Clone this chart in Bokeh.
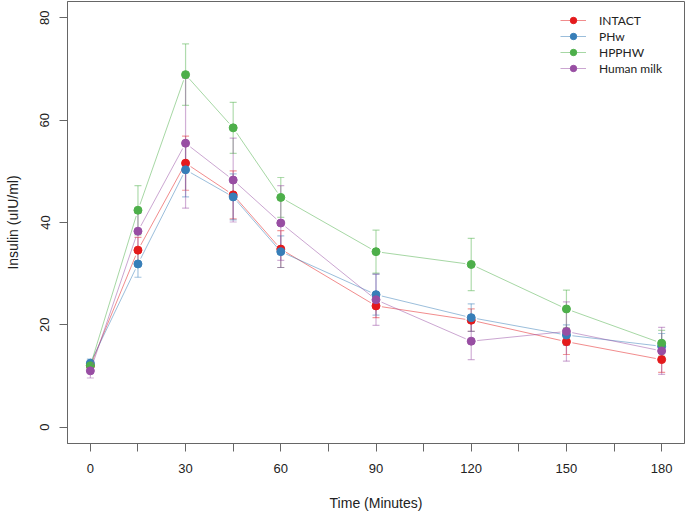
import math
from bokeh.plotting import figure
from bokeh.models import (ColumnDataSource, Range1d, FixedTicker, Whisker, TeeHead,
                          Legend, LegendItem)
from bokeh.embed import file_html
from bokeh.resources import INLINE

times = [0, 15, 30, 45, 60, 90, 120, 150, 180]
series_names = ["INTACT", "PHw", "HPPHW", "Human milk"]
series_colors = ["#E41A1C", "#377EB8", "#4DAF4A", "#984EA3"]

intact = [12.0, 34.6, 51.6, 45.4, 34.8, 23.7, 20.9, 16.7, 13.2]
intact_err = [0.8, 2.5, 5.3, 4.7, 3.6, 2.3, 2.2, 2.5, 2.5]
phw = [12.5, 31.9, 50.3, 45.0, 34.3, 25.9, 21.4, 18.0, 15.8]
phw_err = [0.8, 2.6, 5.3, 4.5, 3.1, 4.0, 2.7, 2.0, 2.5]
hpphw = [12.0, 42.4, 68.9, 58.5, 44.9, 34.3, 31.8, 23.1, 16.4]
hpphw_err = [0.8, 4.8, 6.0, 5.0, 3.9, 4.2, 5.1, 3.7, 2.5]
milk = [11.0, 38.3, 55.5, 48.3, 39.9, 24.9, 16.8, 18.7, 14.9]
milk_err = [1.4, 3.5, 12.7, 8.2, 7.3, 5.0, 3.6, 5.8, 4.6]

x_ticks = [0, 15, 30, 45, 60, 75, 90, 105, 120, 135, 150, 165, 180]
x_labels = [0, 30, 60, 90, 120, 150, 180]
y_ticks = [0, 20, 40, 60, 80]

values = [intact, phw, hpphw, milk]
errors = [intact_err, phw_err, hpphw_err, milk_err]

XR = (-7.2, 187.2)
YR = (-3.2, 83.2)
W, H = 685, 514
BL, BR, BT, BB = 67, 1, 1, 71

p = figure(width=W, height=H, x_range=Range1d(*XR), y_range=Range1d(*YR),
           output_backend="svg", toolbar_location=None,
           min_border_left=BL, min_border_right=BR, min_border_top=BT, min_border_bottom=BB)
p.xgrid.visible = False
p.ygrid.visible = False
p.outline_line_color = "#666666"
p.outline_line_width = 1
p.background_fill_color = "white"
p.border_fill_color = "white"

# pixel scale for gaps (R type="b")
fw = W - BL - BR
fh = H - BT - BB
sx = fw / (XR[1] - XR[0])
sy = fh / (YR[1] - YR[0])
GAP = 6.0

legend_items = []
for name, col, v, e in zip(series_names, series_colors, values, errors):
    x0, y0, x1, y1 = [], [], [], []
    for i in range(len(times) - 1):
        dx = (times[i + 1] - times[i]) * sx
        dy = (v[i + 1] - v[i]) * sy
        L = math.hypot(dx, dy)
        f = GAP / L if L > 0 else 0
        tx = times[i + 1] - times[i]
        ty = v[i + 1] - v[i]
        x0.append(times[i] + tx * f)
        y0.append(v[i] + ty * f)
        x1.append(times[i + 1] - tx * f)
        y1.append(v[i + 1] - ty * f)
    seg = p.segment(x0=x0, y0=y0, x1=x1, y1=y1, line_color=col, line_alpha=0.5, line_width=1)
    src = ColumnDataSource(dict(t=times, v=v,
                                lo=[a - b for a, b in zip(v, e)],
                                hi=[a + b for a, b in zip(v, e)]))
    wh = Whisker(base="t", upper="hi", lower="lo", source=src, dimension="height",
                 line_color=col, line_alpha=0.45, line_width=1.2,
                 upper_head=TeeHead(size=7, line_color=col, line_alpha=0.45, line_width=1.2),
                 lower_head=TeeHead(size=7, line_color=col, line_alpha=0.45, line_width=1.2))
    p.add_layout(wh)
    sc = p.scatter(x="t", y="v", source=src, size=8, fill_color=col, line_color=col)
    legend_items.append(LegendItem(label=name, renderers=[seg, sc]))

legend = Legend(items=legend_items, location=(493, 367))
legend.border_line_color = None
legend.background_fill_alpha = 0
legend.padding = 0
legend.margin = 0
legend.spacing = 0
legend.label_height = 16
legend.glyph_height = 16
legend.glyph_width = 26
legend.label_standoff = 13
legend.label_text_font = "Lato"
legend.label_text_font_size = "12px"
legend.label_text_color = "#222222"
p.add_layout(legend)

p.xaxis.ticker = FixedTicker(ticks=x_ticks)
p.xaxis.major_label_overrides = {t: (str(t) if t in x_labels else "") for t in x_ticks}
p.yaxis.ticker = FixedTicker(ticks=y_ticks)
p.yaxis.major_label_orientation = "vertical"
for ax in (p.xaxis, p.yaxis):
    ax.axis_line_color = "#666666"
    ax.major_tick_line_color = "#666666"
    ax.major_tick_out = 8
    ax.major_tick_in = 0
    ax.minor_tick_line_color = None
    ax.major_label_text_font = "Liberation Sans"
    ax.major_label_text_font_size = "13px"
    ax.major_label_text_color = "#222222"
    ax.axis_label_text_font = "Liberation Sans"
    ax.axis_label_text_font_size = "14px"
    ax.axis_label_text_font_style = "normal"
    ax.axis_label_text_color = "#222222"
p.xaxis.axis_label = "Time (Minutes)"
p.yaxis.axis_label = "Insulin (uIU/ml)"
p.xaxis.major_label_standoff = 12
p.xaxis.axis_label_standoff = 19
p.yaxis.major_label_standoff = 10
p.yaxis.axis_label_standoff = 17

open("out.html", "w").write(file_html(p, INLINE))
